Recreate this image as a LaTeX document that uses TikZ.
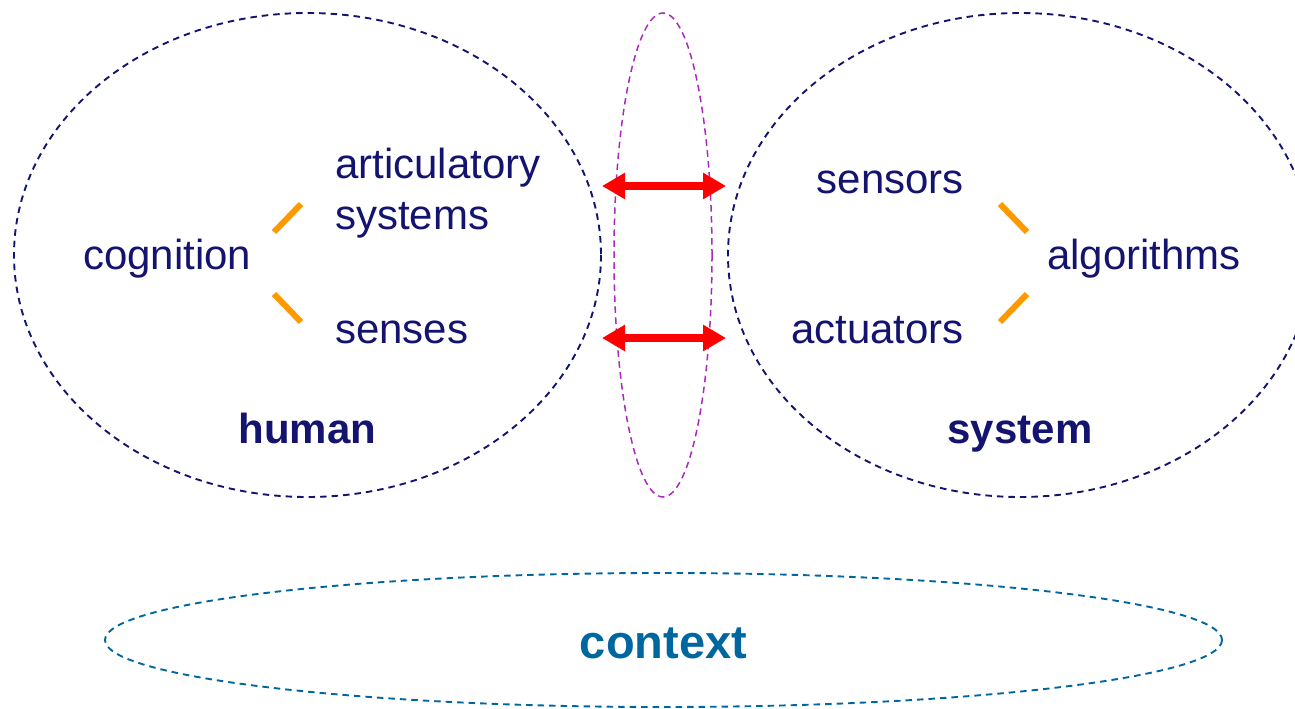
\documentclass[tikz,border=0pt]{standalone}
\usepackage{fontspec}
\setmainfont{Liberation Sans}
\usetikzlibrary{arrows.meta}
\definecolor{navy}{RGB}{20,20,112}
\definecolor{plum}{RGB}{170,40,190}
\definecolor{ctxblue}{RGB}{0,102,160}
\definecolor{linkred}{RGB}{255,0,0}
\definecolor{tick}{RGB}{255,153,0}
\tikzset{
  x=1pt, y=-1pt,
  zone/.style={draw=navy, line width=1.9pt, dash pattern=on 6.5pt off 5pt},
  word/.style={text=navy, font=\fontsize{42}{50}\selectfont, inner sep=0pt},
  title/.style={text=navy, font=\fontsize{42}{50}\selectfont\bfseries, inner sep=0pt},
  link/.style={draw=linkred, line width=8.5pt, {Triangle[length=23pt,width=25pt]}-{Triangle[length=23pt,width=25pt]}},
  tickline/.style={draw=tick, line width=6pt},
}
\begin{document}
\begin{tikzpicture}
\useasboundingbox (0,0) rectangle (1295,709);
\begin{scope}
\clip (0,0) rectangle (1295,709);
% the three upper zones and the context zone
\draw[zone] (307.5,255) ellipse [x radius=293.5, y radius=242];
\draw[zone] (1020,255) ellipse [x radius=292, y radius=242];
\draw[draw=plum, line width=1.5pt, dash pattern=on 6.5pt off 4.5pt] (663,255) ellipse [x radius=49, y radius=242];
\draw[draw=ctxblue, line width=1.9pt, dash pattern=on 6.5pt off 5pt] (663.5,640) ellipse [x radius=558.5, y radius=67];
\end{scope}

% human side
\node[word, anchor=base west] (cog) at (83,269) {cognition};
\node[word, anchor=base west] (art) at (335,178) {articulatory};
\node[word, anchor=base west] (sys) at (335,229) {systems};
\node[word, anchor=base west] (sen) at (335,343) {senses};
\node[title, anchor=base] (human) at (307.5,443) {human};

% system side
\node[word, anchor=base east] (sensors) at (964,193) {sensors};
\node[word, anchor=base west] (alg) at (1047,269) {algorithms};
\node[word, anchor=base east] (act) at (964,343) {actuators};
\node[title, anchor=base] (system) at (1020,443) {system};

% context
\node[text=ctxblue, font=\fontsize{47}{56}\selectfont\bfseries, inner sep=0pt, anchor=base] (ctx) at (663.5,658) {context};

% orange ticks between the words
\coordinate (l1a) at (274,232); \coordinate (l1b) at (301,204);
\coordinate (l2a) at (274,294); \coordinate (l2b) at (301,322);
\coordinate (r1a) at (1000,204); \coordinate (r1b) at (1027,232);
\coordinate (r2a) at (1000,322); \coordinate (r2b) at (1027,294);
\draw[tickline] (l1a) -- (l1b);
\draw[tickline] (l2a) -- (l2b);
\draw[tickline] (r1a) -- (r1b);
\draw[tickline] (r2a) -- (r2b);

% red two-way links across the interface
\coordinate (a1l) at (602,186); \coordinate (a1r) at (726,186);
\coordinate (a2l) at (602,338); \coordinate (a2r) at (726,338);
\draw[link] (a1l) -- (a1r);
\draw[link] (a2l) -- (a2r);
\end{tikzpicture}
\end{document}
